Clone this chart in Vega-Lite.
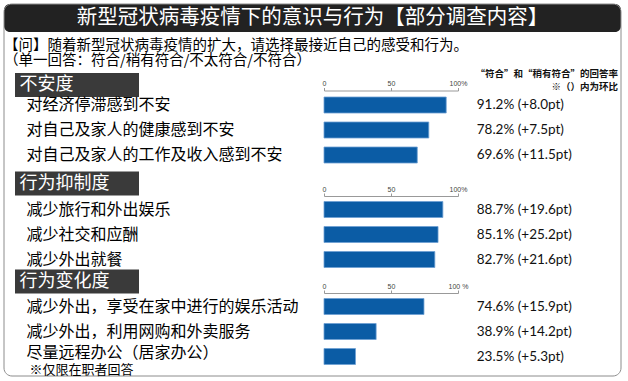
{
  "$schema": "https://vega.github.io/schema/vega-lite/v6.json",
  "background": "white",
  "padding": {"left": 3, "top": 3, "right": 5, "bottom": 4},
  "bounds": "flush",
  "spacing": 0,
  "config": {"view": {"stroke": null}, "font": "Noto Sans CJK SC"},
  "datasets": {
    "items": [
      {"section": "不安度", "item": "对经济停滞感到不安", "rate": 91.2, "label": "91.2% (+8.0pt)"},
      {"section": "不安度", "item": "对自己及家人的健康感到不安", "rate": 78.2, "label": "78.2% (+7.5pt)"},
      {"section": "不安度", "item": "对自己及家人的工作及收入感到不安", "rate": 69.6, "label": "69.6% (+11.5pt)"},
      {"section": "行为抑制度", "item": "减少旅行和外出娱乐", "rate": 88.7, "label": "88.7% (+19.6pt)"},
      {"section": "行为抑制度", "item": "减少社交和应酬", "rate": 85.1, "label": "85.1% (+25.2pt)"},
      {"section": "行为抑制度", "item": "减少外出就餐", "rate": 82.7, "label": "82.7% (+21.6pt)"},
      {"section": "行为变化度", "item": "减少外出，享受在家中进行的娱乐活动", "rate": 74.6, "label": "74.6% (+15.9pt)"},
      {"section": "行为变化度", "item": "减少外出，利用网购和外卖服务", "rate": 38.9, "label": "38.9% (+14.2pt)"},
      {"section": "行为变化度", "item": "尽量远程办公（居家办公）", "rate": 23.5, "label": "23.5% (+5.3pt)"}
    ],
    "sections": [
      {"section": "不安度", "item": "不安度"},
      {"section": "行为抑制度", "item": "行为抑制度"},
      {"section": "行为变化度", "item": "行为变化度"}
    ],
    "notes": [{"section": "不安度", "item": "不安度", "note": "“符合”和“稍有符合”的回答率\n※（）内为环比"}],
    "heading": [{"t": "新型冠状病毒疫情下的意识与行为【部分调查内容】", "part": "frame"}]
  },
  "vconcat": [
    {
      "width": 617,
      "height": 28,
      "view": {"fill": "#222222", "stroke": null, "cornerRadius": 6},
      "data": {"name": "heading"},
      "title": {
        "text": ["【问】随着新型冠状病毒疫情的扩大，请选择最接近自己的感受和行为。", "（单一回答：符合/稍有符合/不太符合/不符合）"],
        "orient": "top", "anchor": "start", "frame": "group", "offset": -79, "baseline": "bottom",
        "fontSize": 14.5, "fontWeight": "normal", "lineHeight": 15.5, "color": "#000000", "font": "Noto Sans CJK SC"
      },
      "layer": [
        {
          "mark": {"type": "text", "color": "white", "fontSize": 20.5, "font": "Noto Sans CJK SC"},
          "encoding": {"text": {"field": "t"}}
        },
        {
          "mark": {"type": "rect", "filled": false, "stroke": "#8c8c8c", "strokeWidth": 1, "cornerRadius": 8, "clip": false},
          "encoding": {
            "y": {"field": "part", "type": "nominal", "scale": {"range": [0, 372], "paddingInner": 0, "paddingOuter": 0}, "axis": null}
          }
        }
      ]
    },
    {
      "width": 614, "height": 139.5,
      "resolve": {"scale": {"x": "independent"}, "axis": {"x": "independent"}},
      "encoding": {
        "y": {
          "field": "item", "type": "nominal",
          "scale": {"domain": ["不安度", "对经济停滞感到不安", "对自己及家人的健康感到不安", "对自己及家人的工作及收入感到不安"], "range": [35.5, 135.5], "paddingInner": 0.04, "paddingOuter": 0.02},
          "axis": {
            "orient": "left", "title": null, "domain": false, "ticks": false, "grid": false, "zindex": 1,
            "labelAlign": "left", "labelBaseline": "middle", "labelLimit": 600, "labelOverlap": false, "labelFont": "Noto Sans CJK SC",
            "labelPadding": {"condition": {"test": "datum.value === '不安度'", "value": -15}, "value": -22},
            "labelFontSize": {"condition": {"test": "datum.value === '不安度'", "value": 18}, "value": 16},
            "labelColor": {"condition": {"test": "datum.value === '不安度'", "value": "#ffffff"}, "value": "#000000"},
            "labelOffset": {"condition": {"test": "datum.value === '不安度'", "value": 5}, "value": 0}
          }
        }
      },
      "layer": [
        {
          "data": {"name": "sections"},
          "transform": [{"filter": "datum.section === '不安度'"}],
          "mark": {"type": "rect", "color": "#3a3a3a", "yOffset": 5, "y2Offset": 5},
          "encoding": {
            "x": {"field": "section", "type": "nominal", "scale": {"range": [11, 135], "paddingInner": 0, "paddingOuter": 0}, "axis": null}
          }
        },
        {
          "layer": [
            {
              "data": {"name": "items"},
              "transform": [{"filter": "datum.section === '不安度'"}],
              "mark": {"type": "bar", "color": "#0b5ca5", "stroke": "#6d9fd3", "strokeWidth": 0.8, "height": 16},
              "encoding": {
                "x": {
                  "field": "rate", "type": "quantitative",
                  "scale": {"domain": [0, 100], "range": [320, 454], "nice": false},
                  "axis": {"orient": "top", "offset": -58.5, "values": [0, 50, 100], "labelExpr": "datum.value === 100 ? '100%' : datum.label", "title": null, "grid": false, "labelFontSize": 7, "labelFont": "Liberation Sans", "labelColor": "#444444", "labelPadding": 1, "tickSize": 3, "tickColor": "#999999", "domainColor": "#999999", "labelFlush": false}
                }
              }
            },
            {
              "data": {"name": "items"},
              "transform": [{"filter": "datum.section === '不安度'"}],
              "mark": {"type": "text", "align": "left", "baseline": "middle", "font": "Lato", "fontSize": 13.5, "color": "#111111"},
              "encoding": {"x": {"datum": 114}, "text": {"field": "label"}}
            },
            {
              "data": {"name": "notes"},
              "mark": {"type": "text", "align": "right", "baseline": "middle", "fontSize": 9.5, "fontWeight": "bold", "lineHeight": 12.5, "lineBreak": "\n", "dy": -6, "color": "#111111"},
              "encoding": {"x": {"value": "width"}, "text": {"field": "note"}}
            }
          ]
        }
      ]
    },
    {
      "width": 614, "height": 97,
      "resolve": {"scale": {"x": "independent"}, "axis": {"x": "independent"}},
      "encoding": {
        "y": {
          "field": "item", "type": "nominal",
          "scale": {"domain": ["行为抑制度", "减少旅行和外出娱乐", "减少社交和应酬", "减少外出就餐"], "range": [0, 100], "paddingInner": 0.04, "paddingOuter": 0.02},
          "axis": {
            "orient": "left", "title": null, "domain": false, "ticks": false, "grid": false, "zindex": 1,
            "labelAlign": "left", "labelBaseline": "middle", "labelLimit": 600, "labelOverlap": false, "labelFont": "Noto Sans CJK SC",
            "labelPadding": {"condition": {"test": "datum.value === '行为抑制度'", "value": -15}, "value": -22},
            "labelFontSize": {"condition": {"test": "datum.value === '行为抑制度'", "value": 18}, "value": 16},
            "labelColor": {"condition": {"test": "datum.value === '行为抑制度'", "value": "#ffffff"}, "value": "#000000"},
            "labelOffset": {"condition": {"test": "datum.value === '行为抑制度'", "value": -1}, "value": 0}
          }
        }
      },
      "layer": [
        {
          "data": {"name": "sections"},
          "transform": [{"filter": "datum.section === '行为抑制度'"}],
          "mark": {"type": "rect", "color": "#3a3a3a", "yOffset": -1, "y2Offset": -1},
          "encoding": {
            "x": {"field": "section", "type": "nominal", "scale": {"range": [11, 135], "paddingInner": 0, "paddingOuter": 0}, "axis": null}
          }
        },
        {
          "layer": [
            {
              "data": {"name": "items"},
              "transform": [{"filter": "datum.section === '行为抑制度'"}],
              "mark": {"type": "bar", "color": "#0b5ca5", "stroke": "#6d9fd3", "strokeWidth": 0.8, "height": 16},
              "encoding": {
                "x": {
                  "field": "rate", "type": "quantitative",
                  "scale": {"domain": [0, 100], "range": [320, 454], "nice": false},
                  "axis": {"orient": "top", "offset": -24, "values": [0, 50, 100], "labelExpr": "datum.value === 100 ? '100%' : datum.label", "title": null, "grid": false, "labelFontSize": 7, "labelFont": "Liberation Sans", "labelColor": "#444444", "labelPadding": 1, "tickSize": 3, "tickColor": "#999999", "domainColor": "#999999", "labelFlush": false}
                }
              }
            },
            {
              "data": {"name": "items"},
              "transform": [{"filter": "datum.section === '行为抑制度'"}],
              "mark": {"type": "text", "align": "left", "baseline": "middle", "font": "Lato", "fontSize": 13.5, "color": "#111111"},
              "encoding": {"x": {"datum": 114}, "text": {"field": "label"}}
            }
          ]
        }
      ]
    },
    {
      "width": 614, "height": 100,
      "resolve": {"scale": {"x": "independent"}, "axis": {"x": "independent"}},
      "encoding": {
        "y": {
          "field": "item", "type": "nominal",
          "scale": {"domain": ["行为变化度", "减少外出，享受在家中进行的娱乐活动", "减少外出，利用网购和外卖服务", "尽量远程办公（居家办公）", "※仅限在职者回答"], "range": [0, 125], "paddingInner": 0.04, "paddingOuter": 0.02},
          "axis": {
            "orient": "left", "title": null, "domain": false, "ticks": false, "grid": false, "zindex": 1,
            "labelAlign": "left", "labelBaseline": "middle", "labelLimit": 600, "labelOverlap": false, "labelFont": "Noto Sans CJK SC",
            "labelPadding": {"condition": [{"test": "datum.value === '行为变化度'", "value": -15}, {"test": "datum.value === '※仅限在职者回答'", "value": -25}], "value": -22},
            "labelFontSize": {"condition": [{"test": "datum.value === '行为变化度'", "value": 18}, {"test": "datum.value === '※仅限在职者回答'", "value": 13}], "value": 16},
            "labelColor": {"condition": {"test": "datum.value === '行为变化度'", "value": "#ffffff"}, "value": "#000000"},
            "labelOffset": {"condition": [{"test": "datum.value === '※仅限在职者回答'", "value": -11.5}, {"test": "datum.value === '尽量远程办公（居家办公）'", "value": -3.5}], "value": 0}
          }
        }
      },
      "layer": [
        {
          "data": {"name": "sections"},
          "transform": [{"filter": "datum.section === '行为变化度'"}],
          "mark": {"type": "rect", "color": "#3a3a3a"},
          "encoding": {
            "x": {"field": "section", "type": "nominal", "scale": {"range": [11, 135], "paddingInner": 0, "paddingOuter": 0}, "axis": null}
          }
        },
        {
          "layer": [
            {
              "data": {"name": "items"},
              "transform": [{"filter": "datum.section === '行为变化度'"}],
              "mark": {"type": "bar", "color": "#0b5ca5", "stroke": "#6d9fd3", "strokeWidth": 0.8, "height": 16},
              "encoding": {
                "x": {
                  "field": "rate", "type": "quantitative",
                  "scale": {"domain": [0, 100], "range": [320, 454], "nice": false},
                  "axis": {"orient": "top", "offset": -24, "values": [0, 50, 100], "labelExpr": "datum.value === 100 ? '100 %' : datum.label", "title": null, "grid": false, "labelFontSize": 7, "labelFont": "Liberation Sans", "labelColor": "#444444", "labelPadding": 1, "tickSize": 3, "tickColor": "#999999", "domainColor": "#999999", "labelFlush": false}
                }
              }
            },
            {
              "data": {"name": "items"},
              "transform": [{"filter": "datum.section === '行为变化度'"}],
              "mark": {"type": "text", "align": "left", "baseline": "middle", "font": "Lato", "fontSize": 13.5, "color": "#111111"},
              "encoding": {"x": {"datum": 114}, "text": {"field": "label"}}
            }
          ]
        }
      ]
    }
  ]
}
